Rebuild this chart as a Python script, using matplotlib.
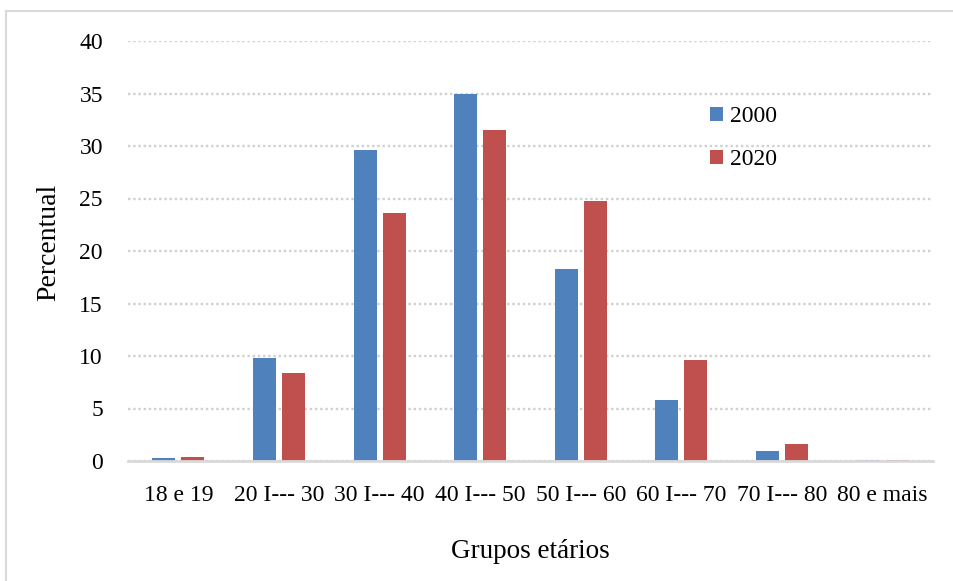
import matplotlib
matplotlib.use('Agg')
import matplotlib.pyplot as plt
from matplotlib.lines import Line2D
import numpy as np

grupos = ['18 e 19', '20 I--- 30', '30 I--- 40', '40 I--- 50', '50 I--- 60',
          '60 I--- 70', '70 I--- 80', '80 e mais']
v2000 = [0.3, 9.8, 29.6, 35.0, 18.3, 5.8, 1.0, 0.1]
v2020 = [0.4, 8.4, 23.6, 31.5, 24.8, 9.6, 1.6, 0.1]

plt.rcParams['font.family'] = ['Liberation Serif', 'DejaVu Serif']

fig = plt.figure(figsize=(9.54, 5.81), dpi=100)
ax = fig.add_axes([128/954, 1-461/581, 805/954, 420/581])

x = np.arange(len(grupos))
w = 0.229
off = 0.144
ax.bar(x - off, v2000, w, color='#4F81BD', label='2000', zorder=3)
ax.bar(x + off, v2020, w, color='#C0504D', label='2020', zorder=3)

ax.set_xlim(-0.5, len(grupos) - 0.5)
ax.set_ylim(0, 40)
ax.set_yticks(range(0, 41, 5))
ax.set_xticks(x)
ax.set_xticklabels(grupos)
ax.tick_params(axis='both', length=0, labelsize=17)
ax.tick_params(axis='y', pad=18)
ax.tick_params(axis='x', pad=17)

for s in ['top', 'right', 'left']:
    ax.spines[s].set_visible(False)
ax.spines['bottom'].set_color('#d9d9d9')
ax.spines['bottom'].set_linewidth(2)
ax.spines['bottom'].set_zorder(4)

ax.yaxis.grid(True, linestyle=(0, (1, 1.2)), color='#d0d0d0', linewidth=1.7, zorder=0)
ax.set_axisbelow(True)

ax.set_ylabel('Percentual', fontsize=20)
ax.set_xlabel('Grupos etários', fontsize=19.5)
ax.yaxis.set_label_coords(-0.083, 0.52)
ax.xaxis.set_label_coords(0.5, -0.185)

ax.legend(loc='upper left', bbox_to_anchor=(710/954, 1-106/581),
          bbox_transform=fig.transFigure, frameon=False, fontsize=17,
          handlelength=0.55, handleheight=0.55, handletextpad=0.3,
          labelspacing=0.95, borderpad=0, borderaxespad=0)

# moldura do grafico
fig.add_artist(Line2D([6/954, 1], [1-11/581, 1-11/581], color='#d9d9d9', lw=1.5,
                      transform=fig.transFigure))
fig.add_artist(Line2D([6.5/954, 6.5/954], [0, 1-11/581], color='#d9d9d9', lw=1.5,
                      transform=fig.transFigure))

fig.savefig('out.png', dpi=100)
